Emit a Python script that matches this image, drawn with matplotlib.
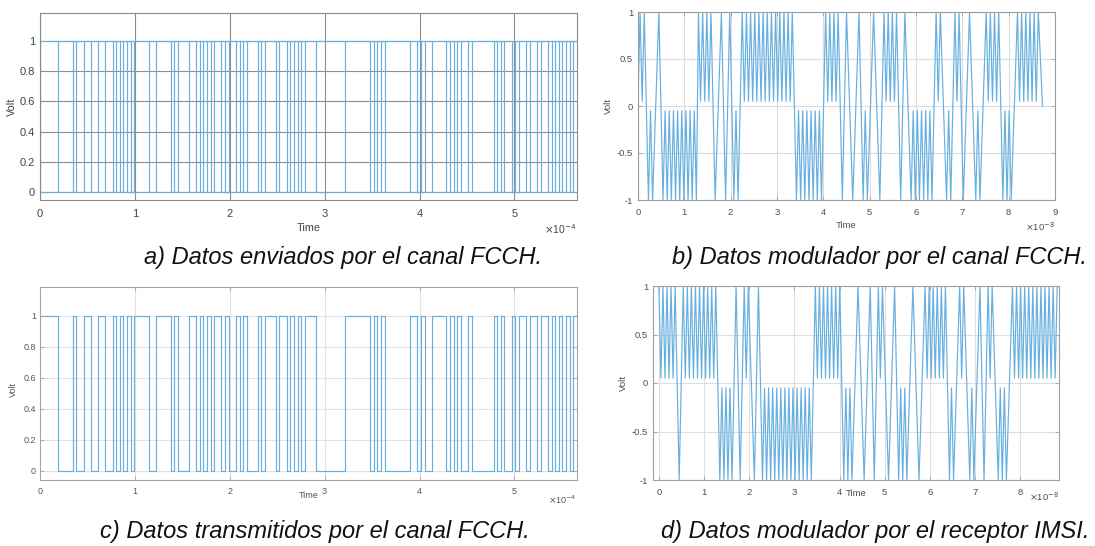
import numpy as np
import matplotlib
matplotlib.use("Agg")
import matplotlib.pyplot as plt

plt.rcParams['font.family'] = ['Liberation Sans', 'DejaVu Sans']
plt.rcParams['axes.unicode_minus'] = False

# ---------------- data ----------------
# FCCH burst bits (panels a and c)
fcch_bits = [
    1, 1, 1, 1, 1, 0, 0, 0, 0, 1, 0, 0, 1, 1, 0, 0,
    1, 1, 0, 0, 1, 0, 1, 0, 1, 0, 1, 1, 1, 1, 0, 0,
    1, 1, 1, 1, 0, 1, 0, 0, 0, 1, 1, 0, 1, 0, 1, 0,
    1, 1, 0, 1, 0, 0, 1, 0, 1, 0, 0, 0, 1, 0, 1, 1,
    1, 0, 1, 1, 0, 1, 0, 1, 0, 1, 1, 1, 0, 0, 0, 0,
    0, 0, 0, 0, 1, 1, 1, 1, 1, 1, 1, 0, 1, 0, 1, 0,
    0, 0, 0, 0, 0, 0, 1, 1, 0, 1, 0, 0, 1, 1, 1, 1,
    0, 1, 0, 1, 0, 0, 1, 0, 0, 0, 0, 0, 0, 1, 0, 1,
    0, 0, 1, 0, 1, 1, 0, 1, 1, 0, 1, 1, 0, 1, 0, 1,
    0, 1, 0, 1,
]
bit_period = 5.66 / 148          # time per bit, in units of 1e-4 s

# Modulated waveforms (panels b and d): one character per sample slot
# H = 1, h = 0.05, L = -1, l = -0.05, z = 0, '.' = no vertex in that slot
level_of = {'H': 1.0, 'h': 0.05, 'L': -1.0, 'l': -0.05, 'z': 0.0}
slot_dt = 0.045                  # units of 1e-8 s
mod_fcch_code = ("hHhH" ".LlL..H.L" "lLlLlLlLlLlLlLlL" "HhHhHhH"
                 ".L..H.L.H.LlL." "HhHhHhHhHhHhHhHhHhHhHhHhH"
                 ".LlLlLlLlLlLlL" ".HhHhHhH" ".L.H..L..H.LlL..H..L."
                 "HhHhHhH" ".L.H.." "LlLlLlLlLlL"
                 ".HhH..LlL.HhH.L..H..LlL.." "HhHhHhH" ".LlLlL.."
                 "HhHhHhHhHhH" ".z")
mod_imsi_code = ("HhHhHhHhH" ".L." "HhHhHhHhHhHhHhHhH" "." "LlLlLlL"
                 ".H.L.HhH..L.H." "LlLlLlLlLlLlLlLlLlLlLlLlL" "."
                 "HhHhHhHhHhHhH"
                 ".LlLlL..H..L..H.L.HhH..L..H.LlLlL..H..L.."
                 "HhHhHhHhHhH" ".LlL..HhH..LlL..H.L.HhH..LlLlL.."
                 "HhHhHhHhHhHhHhHhHhHhHhH")

bits_xticks = [0, 1, 2, 3, 4, 5]
bits_yticks = [0, 0.2, 0.4, 0.6, 0.8, 1]
mod_fcch_xticks = [0, 1, 2, 3, 4, 5, 6, 7, 8, 9]
mod_imsi_xticks = [0, 1, 2, 3, 4, 5, 6, 7, 8]
mod_yticks = [-1, -0.5, 0, 0.5, 1]

captions = ["a) Datos enviados por el canal FCCH.",
            "b) Datos modulador por el canal FCCH.",
            "c) Datos transmitidos por el canal FCCH.",
            "d) Datos modulador por el receptor IMSI."]


def decode(code):
    t = [i * slot_dt for i, c in enumerate(code) if c != '.']
    v = [level_of[c] for c in code if c != '.']
    return np.array(t), np.array(v)


# ---------------- figure ----------------
W, H = 1095, 546
fig = plt.figure(figsize=(W / 100, H / 100), dpi=100)
fig.patch.set_facecolor('white')

LINE = '#66afdf'
LW = 0.85


def rect(l, t, r, b):
    return [l / W, 1 - b / H, (r - l) / W, (b - t) / H]


def style(ax, xt, yt, grid_c, spine_c, lab_c, fs, xpad, ypad):
    ax.set_xticks(xt)
    ax.set_xticklabels([f'{v:g}' for v in xt])
    ax.set_yticks(yt)
    ax.set_yticklabels([f'{v:g}' for v in yt])
    ax.grid(True, color=grid_c, linewidth=0.8)
    ax.set_axisbelow(True)
    for s in ax.spines.values():
        s.set_color(spine_c)
        s.set_linewidth(0.8)
    ax.tick_params(direction='in', length=3, width=0.6, top=True, right=True,
                   colors=spine_c, labelcolor=lab_c, labelsize=fs)
    ax.tick_params(axis='x', pad=xpad)
    ax.tick_params(axis='y', pad=ypad)


def labels(ax, fs, color, xl_y, yl_x, yl_y=0.5):
    ax.set_xlabel('Time', fontsize=fs, color=color)
    ax.xaxis.label.set_va('center')
    ax.xaxis.set_label_coords(0.5, xl_y)
    ax.set_ylabel('Volt', fontsize=fs, color=color)
    ax.yaxis.label.set_va('center')
    ax.yaxis.label.set_ha('center')
    ax.yaxis.set_label_coords(yl_x, yl_y)


def exponent(ax, s, fs, color, y):
    ax.text(1.0, y, r'$\times$10$^{%s}$' % s, transform=ax.transAxes,
            ha='right', va='center', fontsize=fs, color=color)


bits = np.array(fcch_bits)
t_end = len(bits) * bit_period

# ---- panel a ----
ax_a = fig.add_axes(rect(40, 13, 577, 200))
edges = np.concatenate([[0], np.flatnonzero(np.diff(bits)) + 1]) * bit_period
ax_a.hlines([0, 1], 0, t_end, colors=LINE, linewidth=LW)
ax_a.vlines(edges, 0, 1, colors=LINE, linewidth=LW)
ax_a.set_xlim(0, 5.66)
ax_a.set_ylim(-0.053, 1.185)
style(ax_a, bits_xticks, bits_yticks, '#8e8e8e', '#8a8a8a', '#444444', 8, 6.5, 3.5)
labels(ax_a, 7.8, '#444444', (200 - 228) / 187, (12 - 40) / 537)
exponent(ax_a, '-4', 7.5, '#444444', (200 - 229) / 187)

# ---- panel c ----
ax_c = fig.add_axes(rect(40, 287, 577, 480))
t_c = np.arange(len(bits) + 1) * bit_period
y_c = np.concatenate([bits, bits[-1:]])
ax_c.step(t_c, y_c, where='post', color=LINE, linewidth=LW)
ax_c.set_xlim(0, 5.66)
ax_c.set_ylim(-0.06, 1.187)
style(ax_c, bits_xticks, bits_yticks, '#e2e2e2', '#a5a5a5', '#555555', 6.5, 5, 3)
labels(ax_c, 6.5, '#555555', (480 - 496) / 193, (13 - 40) / 537, 0.47)
exponent(ax_c, '-4', 6.5, '#555555', (480 - 500) / 193)

# ---- panel b ----
ax_b = fig.add_axes(rect(638, 12, 1055, 200))
tb, vb = decode(mod_fcch_code)
ax_b.plot(tb, vb, color=LINE, linewidth=LW)
ax_b.set_xlim(0, 9)
ax_b.set_ylim(-1, 1)
style(ax_b, mod_fcch_xticks, mod_yticks, '#dcdcdc', '#9c9c9c', '#4d4d4d', 6.8, 6, 3.5)
labels(ax_b, 6.8, '#4d4d4d', (200 - 226) / 188, (608 - 638) / 417)
exponent(ax_b, '-8', 6.8, '#4d4d4d', (200 - 227) / 188)

# ---- panel d ----
ax_d = fig.add_axes(rect(653, 286, 1059, 480))
td, vd = decode(mod_imsi_code)
ax_d.plot(td, vd, color=LINE, linewidth=LW)
ax_d.set_xlim(-0.13, 8.86)
ax_d.set_ylim(-1, 1)
style(ax_d, mod_imsi_xticks, mod_yticks, '#dedede', '#a0a0a0', '#4d4d4d', 6.8, 6, 3.5)
labels(ax_d, 6.8, '#4d4d4d', (480 - 494) / 194, (623 - 653) / 406)
exponent(ax_d, '-8', 6.8, '#4d4d4d', (480 - 497) / 194)

# ---- captions ----
cap_pos = [(343, 264), (880, 264), (315, 538), (875, 538)]
for (cx, cy), txt in zip(cap_pos, captions):
    fig.text(cx / W, 1 - cy / H, txt, ha='center', va='baseline',
             fontsize=17, style='italic', color='#111111')

fig.savefig('out.png', dpi=100, facecolor='white')
